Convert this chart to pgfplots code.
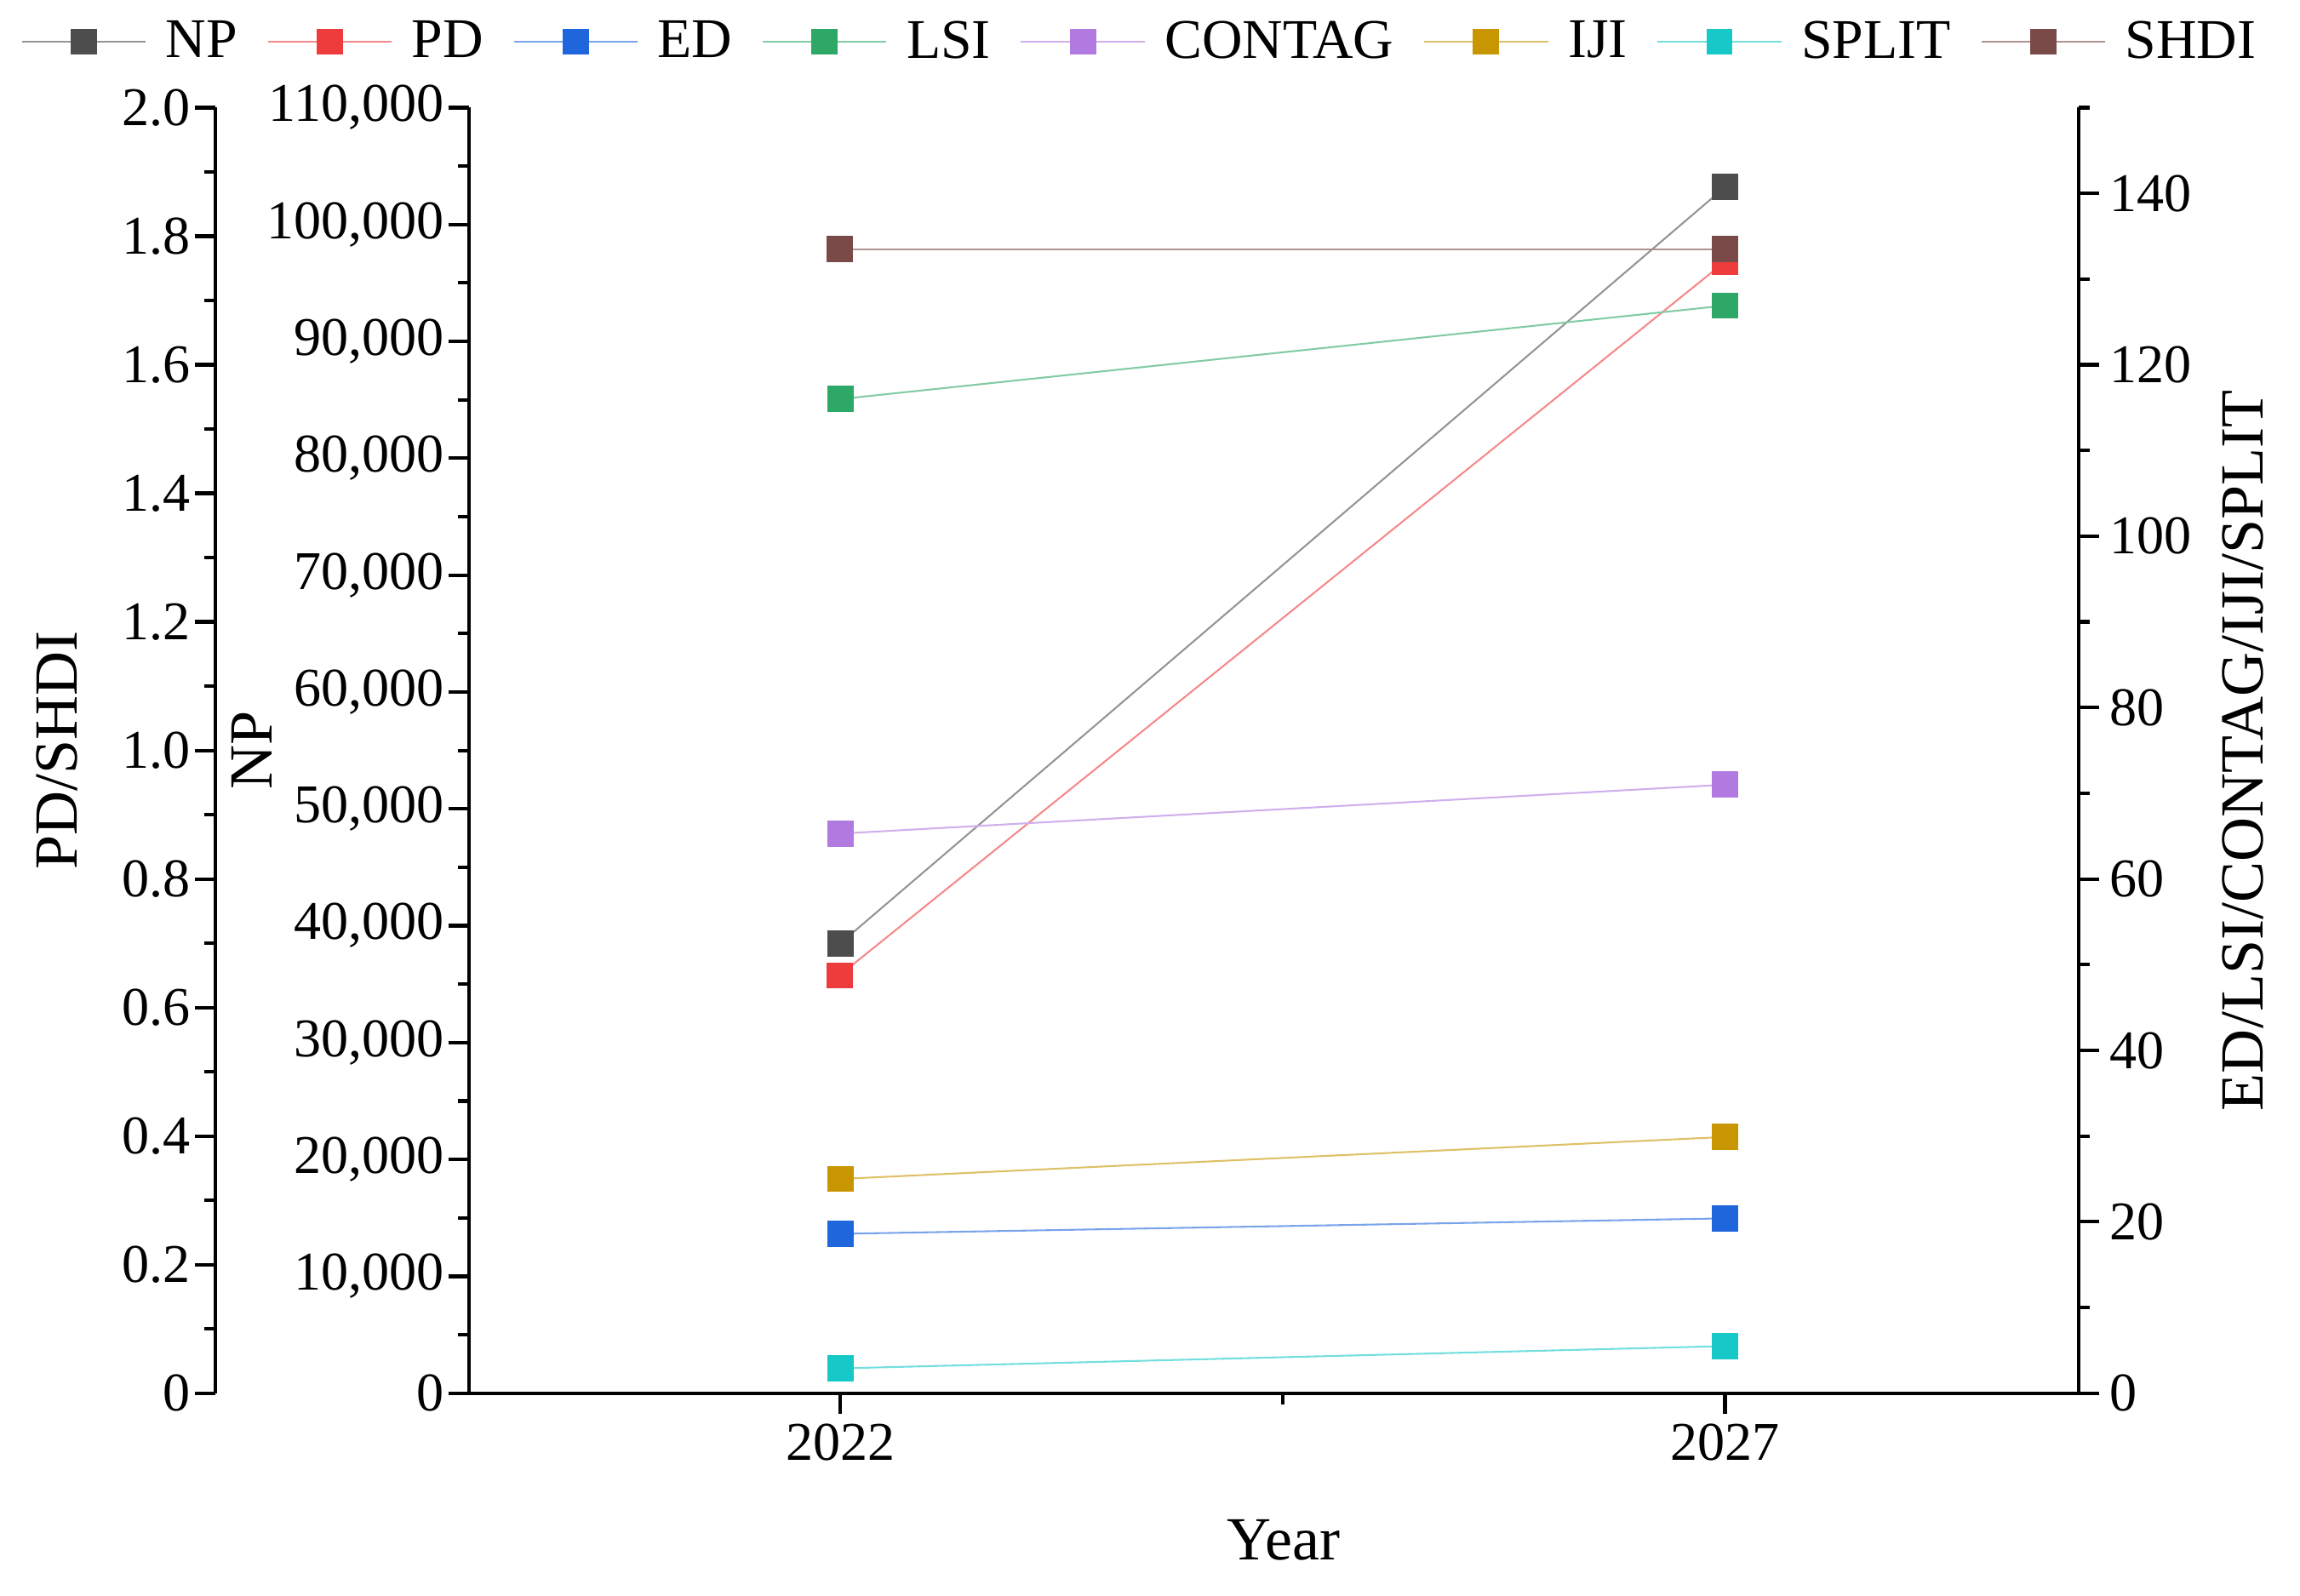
\documentclass[border=0pt]{standalone}
\usepackage{fontspec}
\setmainfont{Liberation Serif}
\usepackage{pgfplots}
\pgfplotsset{compat=1.18}

\definecolor{cNP}{HTML}{4D4D4D}
\definecolor{cPD}{HTML}{EE3B3B}
\definecolor{cED}{HTML}{1F66DD}
\definecolor{cLSI}{HTML}{2EA866}
\definecolor{cCON}{HTML}{B07AE0}
\definecolor{cIJI}{HTML}{C89600}
\definecolor{cSPL}{HTML}{16C8C8}
\definecolor{cSHD}{HTML}{7A4A48}

\newcommand{\tickfont}{\fontsize{18.5pt}{22pt}\selectfont}
\newcommand{\labfont}{\fontsize{20.8pt}{25pt}\selectfont}

\pgfplotsset{
  ser/.style={color=#1!60, line width=0.6pt, mark=square*, mark size=4.25pt,
    mark options={fill=#1, draw=#1, line width=0.4pt}},
  base/.style={scale only axis, height=436pt, ymin=0, clip=false,
    tick align=outside, axis line style={line width=1.3pt},
    major tick length=7pt, minor tick length=3.7pt,
    tick style={black, line width=1.2pt},
    tick label style={font=\tickfont},
    /pgf/number format/assume math mode=true},
}

\begin{document}
\begin{tikzpicture}
% PD / SHDI axis (outer left)
\begin{axis}[base, width=632pt, xmin=2018.475, xmax=2029,
  axis x line=none, axis y line*=left, ymax=2,
  ytick={0,0.2,0.4,0.6,0.8,1.0,1.2,1.4,1.6,1.8,2.0},
  yticklabels={0,0.2,0.4,0.6,0.8,1.0,1.2,1.4,1.6,1.8,2.0},
  yticklabel style={xshift=2pt},
  minor y tick num=1,
  ylabel={PD/SHDI},
  every axis y label/.style={at={(axis description cs:-0.085,0.5)}, anchor=center, rotate=90, font=\labfont},
  legend style={at={(0.497,1.0513)}, anchor=center, draw=none, fill=none,
    legend columns=-1, font=\fontsize{19pt}{22pt}\selectfont,
    /tikz/every odd column/.append style={column sep=4.5pt},
    /tikz/every even column/.append style={column sep=8pt}},
  legend image code/.code={\draw[#1, mark repeat=2, mark phase=2]
    plot coordinates {(0pt,0pt) (21pt,0pt) (42pt,0pt)};},
  ]
  \addlegendimage{ser=cNP}\addlegendentry{NP}
  \addlegendimage{ser=cPD}\addlegendentry{PD}
  \addlegendimage{ser=cED}\addlegendentry{ED}
  \addlegendimage{ser=cLSI}\addlegendentry{LSI}
  \addlegendimage{ser=cCON}\addlegendentry{CONTAG}
  \addlegendimage{ser=cIJI}\addlegendentry{IJI}
  \addlegendimage{ser=cSPL}\addlegendentry{SPLIT}
  \addlegendimage{ser=cSHD}\addlegendentry{SHDI}
  \addplot[ser=cPD, forget plot] coordinates {(2022,0.65) (2027,1.76)};
  \addplot[ser=cSHD, forget plot] coordinates {(2022,1.78) (2027,1.78)};
\end{axis}

% NP axis
\begin{axis}[base, at={(86pt,0pt)}, anchor=south west, width=546pt,
  xmin=2019.9, xmax=2029,
  axis x line*=bottom, axis y line*=left,
  xtick={2022,2027}, xticklabels={2022,2027}, minor xtick={2024.5},
  ymax=110000, ytick={0,10000,20000,30000,40000,50000,60000,70000,80000,90000,100000,110000},
  yticklabels={0,{10,000},{20,000},{30,000},{40,000},{50,000},{60,000},{70,000},{80,000},{90,000},{100,000},{110,000}},
  yticklabel style={xshift=2pt},
  minor y tick num=1,
  scaled y ticks=false,
  xlabel={Year}, ylabel={NP},
  every axis x label/.style={at={(axis description cs:0.506,-0.114)}, anchor=center, font=\labfont},
  every axis y label/.style={at={(axis description cs:-0.1348,0.5)}, anchor=center, rotate=90, font=\labfont},
  ]
  \addplot[ser=cNP] coordinates {(2022,38500) (2027,103200)};
\end{axis}

% ED/LSI/CONTAG/IJI/SPLIT axis (right)
\begin{axis}[base, at={(86pt,0pt)}, anchor=south west, width=546pt,
  xmin=2019.9, xmax=2029,
  axis x line=none, axis y line*=right,
  ymax=150, ytick={0,20,...,140}, minor ytick={10,30,...,150},
  ylabel={ED/LSI/CONTAG/IJI/SPLIT},
  every axis y label/.style={at={(axis description cs:1.102,0.5)}, anchor=center, rotate=90, font=\labfont},
  ]
  \addplot[ser=cED] coordinates {(2022,18.6) (2027,20.4)};
  \addplot[ser=cLSI] coordinates {(2022,116.0) (2027,126.9)};
  \addplot[ser=cCON] coordinates {(2022,65.3) (2027,71.0)};
  \addplot[ser=cIJI] coordinates {(2022,25.0) (2027,29.9)};
  \addplot[ser=cSPL] coordinates {(2022,2.9) (2027,5.5)};
\end{axis}
\pgfresetboundingbox
\path (-73pt,-68.5pt) rectangle (707pt,472.5pt);
\end{tikzpicture}
\end{document}
